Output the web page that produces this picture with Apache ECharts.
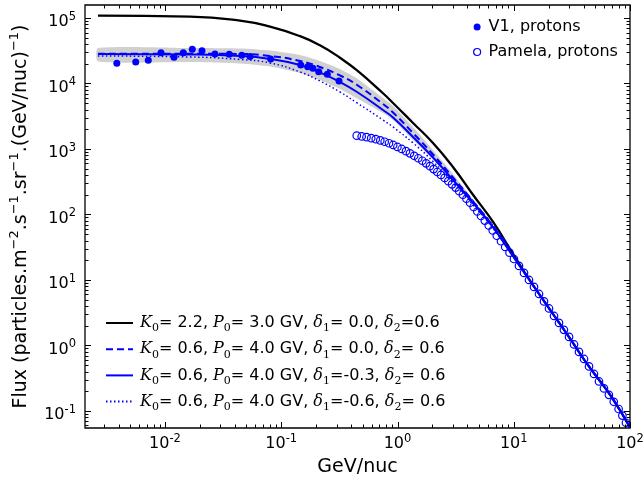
<!DOCTYPE html>
<html><head><meta charset="utf-8">
<script src="https://cdn.jsdelivr.net/npm/echarts@6/dist/echarts.min.js"></script>
<style>html,body{margin:0;padding:0;background:#fff}#c{width:644px;height:480px}</style>
</head><body><div id="c"></div><script>
// Axis ranges
const xMin = 0.00205, xMax = 100, yMin = 0.0549, yMax = 1.578e5;
const xMajorExp = [-2, -1, 0, 1, 2];
const yMajorExp = [-1, 0, 1, 2, 3, 4, 5];

// Model curves (shared energy grid, GeV/nuc)
const modelE = [0.00265, 0.0164, 0.0442, 0.080, 0.145, 0.215, 0.32, 0.449, 0.75, 0.915, 1.36, 2.02, 3.0, 4.46, 6.64, 9.86, 14, 20, 30, 40, 50, 70, 100];
const fluxK22 = [108400, 104700, 90950, 73660, 52740, 38300, 24700, 15800, 7087, 5039, 2494, 1235, 531, 200, 76.8, 25, 9.4, 3.75, 1.33, 0.62, 0.36, 0.16, 0.056];
const fluxD00 = [28500, 28500, 28200, 26290, 22050, 17860, 13250, 9487, 4864, 3608, 1755, 824, 367, 158, 65.6, 23.3, 9.3, 3.75, 1.33, 0.62, 0.36, 0.16, 0.056];
const fluxD03 = [28200, 27720, 26290, 23660, 19160, 14720, 10540, 7418, 3939, 3026, 1525, 742, 336, 150, 63.3, 23, 9.3, 3.75, 1.33, 0.62, 0.36, 0.16, 0.056];
const fluxD06 = [26290, 25380, 23250, 20560, 14990, 10920, 7418, 5039, 2773, 2168, 1236, 644, 303, 140, 61.1, 22.8, 9.3, 3.75, 1.33, 0.62, 0.36, 0.16, 0.056];

// Uncertainty band
const bandE = [0.00265, 0.0164, 0.0442, 0.080, 0.145, 0.215, 0.32, 0.449, 0.75, 0.915, 1.36, 2.02, 3.0, 4.46, 6.64, 9.86];
const bandHigh = [34830, 34830, 34220, 31900, 27230, 22050, 16650, 11920, 6005, 4534, 2167, 965, 415, 169, 66.7, 23.3];
const bandLow = [21670, 21290, 20200, 18180, 14460, 11310, 8241, 5902, 3544, 2772, 1372, 691, 319, 145, 62.2, 23];

// V1 protons
const v1E = [0.00385, 0.0056, 0.00718, 0.00924, 0.01195, 0.01436, 0.01717, 0.0208, 0.0269, 0.0357, 0.0457, 0.0539, 0.0811, 0.147, 0.169, 0.187, 0.210, 0.249, 0.314];
const v1F = [20300, 21300, 22600, 29500, 25100, 29500, 33300, 31700, 28200, 27900, 27000, 25700, 23700, 19100, 18000, 17100, 15100, 13800, 10900];

// Pamela protons
const pamE = [0.446, 0.492, 0.541, 0.594, 0.650, 0.711, 0.776, 0.845, 0.918, 0.998, 1.087, 1.183, 1.280, 1.392, 1.509, 1.634, 1.762, 1.900, 2.045, 2.199, 2.366, 2.546, 2.735, 2.944, 3.163, 3.396, 3.648, 3.917, 4.207, 4.518, 4.857, 5.225, 5.633, 6.091, 6.596, 7.147, 7.768, 8.441, 9.19, 10.04, 11.09, 12.25, 13.52, 14.93, 16.49, 18.2, 20.1, 22.2, 24.5, 27.0, 29.9, 33.0, 36.4, 40.2, 44.4, 49.0, 54.1, 59.7, 65.8, 72.5, 79.8, 86.0, 92.3];
const pamF = [1596, 1552, 1514, 1462, 1413, 1349, 1288, 1222, 1151, 1073, 1000, 925, 857, 787, 721, 661, 603, 546, 493, 445, 401, 361, 322, 288, 257, 227, 200, 174, 151, 130, 111, 94.8, 80.7, 67.9, 57.0, 47.3, 39.0, 31.9, 26.1, 20.9, 16.4, 12.8, 10.0, 7.82, 6.11, 4.70, 3.67, 2.82, 2.21, 1.73, 1.35, 1.035, 0.796, 0.622, 0.478, 0.367, 0.282, 0.221, 0.176, 0.138, 0.107, 0.085, 0.066];

const seriesNames = [
  'K0= 2.2, P0= 3.0 GV, δ1= 0.0, δ2=0.6',
  'K0= 0.6, P0= 4.0 GV, δ1= 0.0, δ2= 0.6',
  'K0= 0.6, P0= 4.0 GV, δ1=-0.3, δ2= 0.6',
  'K0= 0.6, P0= 4.0 GV, δ1=-0.6, δ2= 0.6'
];
const richNames = {};
richNames[seriesNames[0]] = '{m|K}{s|0}{t|= 2.2, }{m|P}{s|0}{t|= 3.0 GV, }{m|δ}{s|1}{t|= 0.0, }{m|δ}{s|2}{t|=0.6}';
richNames[seriesNames[1]] = '{m|K}{s|0}{t|= 0.6, }{m|P}{s|0}{t|= 4.0 GV, }{m|δ}{s|1}{t|= 0.0, }{m|δ}{s|2}{t|= 0.6}';
richNames[seriesNames[2]] = '{m|K}{s|0}{t|= 0.6, }{m|P}{s|0}{t|= 4.0 GV, }{m|δ}{s|1}{t|=-0.3, }{m|δ}{s|2}{t|= 0.6}';
richNames[seriesNames[3]] = '{m|K}{s|0}{t|= 0.6, }{m|P}{s|0}{t|= 4.0 GV, }{m|δ}{s|1}{t|=-0.6, }{m|δ}{s|2}{t|= 0.6}';

const FONT = 'DejaVu Sans';
const BLUE = '#0000ff';

// tick marks (major + minor) for log axes
const tickData = [];
for (let k = -3; k <= 2; k++) for (let m = 1; m <= 9; m++) {
  const v = m * Math.pow(10, k);
  if (v >= xMin && v <= xMax * 1.0001) tickData.push([v, yMin, 0, m === 1 ? 1 : 0]);
}
for (let k = -2; k <= 5; k++) for (let m = 1; m <= 9; m++) {
  const v = m * Math.pow(10, k);
  if (v >= yMin && v <= yMax) tickData.push([xMin, v, 1, m === 1 ? 1 : 0]);
}

const pair = (xs, ys) => xs.map((x, i) => [x, ys[i]]);

function supLabel(v) {
  const e = Math.round(Math.log10(v));
  return '{b|10}{s|' + e + '}';
}
const labelRich = {
  b: { fontFamily: FONT, fontSize: 16, color: '#000', lineHeight: 22 },
  s: { fontFamily: FONT, fontSize: 11.5, color: '#000', lineHeight: 9, verticalAlign: 'top' }
};

const chart = echarts.init(document.getElementById('c'), null, { renderer: 'canvas' });
const hiddenSym = { color: 'rgba(0,0,0,0)', borderWidth: 0, borderColor: 'rgba(0,0,0,0)' };
const option = {
  animation: false,
  backgroundColor: '#fff',
  grid: { left: 85, right: 14, top: 5, bottom: 52, show: true, borderColor: '#000', borderWidth: 1.3,
          backgroundColor: 'transparent', containLabel: false, outerBoundsMode: 'none' },
  xAxis: {
    type: 'log', logBase: 10, min: xMin, max: xMax,
    axisLine: { show: false }, axisTick: { show: false }, splitLine: { show: false }, minorTick: { show: false },
    axisLabel: { formatter: supLabel, rich: labelRich, margin: 5, showMinLabel: false, showMaxLabel: true, color: '#000' },
    name: 'GeV/nuc', nameLocation: 'middle', nameGap: 27, nameMoveOverlap: false,
    nameTextStyle: { fontFamily: FONT, fontSize: 19, color: '#000', lineHeight: 24 }
  },
  yAxis: {
    type: 'log', logBase: 10, min: yMin, max: yMax,
    axisLine: { show: false }, axisTick: { show: false }, splitLine: { show: false }, minorTick: { show: false },
    axisLabel: { formatter: supLabel, rich: labelRich, margin: 9, showMinLabel: false, showMaxLabel: false, color: '#000', padding: [8, 0, 0, 0] },
    name: 'Flux (particles.m{s|−2}.s{s|−1}.sr{s|−1}.(GeV/nuc){s|−1})',
    nameLocation: 'middle', nameGap: 51, nameMoveOverlap: false,
    nameTextStyle: { fontFamily: FONT, fontSize: 19, color: '#000', lineHeight: 26,
      rich: { s: { fontFamily: FONT, fontSize: 13, color: '#000', lineHeight: 10, verticalAlign: 'top' } } }
  },
  legend: [
    {
      data: [
        { name: 'V1, protons', icon: 'circle', itemStyle: { color: BLUE } },
        { name: 'Pamela, protons', icon: 'circle', itemStyle: { color: '#fff', borderColor: BLUE, borderWidth: 1.2 } }
      ],
      orient: 'vertical', left: 468, top: 12, itemWidth: 7, itemHeight: 7, itemGap: 5,
      textStyle: { fontFamily: FONT, fontSize: 16, color: '#000', lineHeight: 20, padding: [0, 0, 0, 3] },
      selectedMode: false
    },
    {
      data: seriesNames.map(n => ({ name: n, itemStyle: hiddenSym })),
      orient: 'vertical', left: 100, top: 310, itemWidth: 27, itemHeight: 14, itemGap: 7.2,
      itemStyle: hiddenSym,
      formatter: (n) => richNames[n],
      textStyle: { padding: [0, 0, 0, 2], color: '#000',
        rich: {
          t: { fontFamily: FONT, fontSize: 16, color: '#000', lineHeight: 22 },
          m: { fontFamily: 'DejaVu Serif', fontStyle: 'italic', fontSize: 16, color: '#000', lineHeight: 22 },
          s: { fontFamily: 'DejaVu Serif', fontSize: 11, color: '#000', lineHeight: 12, verticalAlign: 'bottom' }
        } },
      selectedMode: false
    }
  ],
  series: [
    {
      type: 'custom', name: 'band', z: 1, silent: true,
      data: bandE.map((e, i) => [e, bandLow[i], bandHigh[i]]),
      encode: { x: 0, y: 1 },
      renderItem: function (params, api) {
        if (params.dataIndex !== 0) return null;
        const pts = [];
        for (let i = 0; i < bandE.length; i++) pts.push(api.coord([bandE[i], bandHigh[i]]));
        for (let i = bandE.length - 1; i >= 0; i--) pts.push(api.coord([bandE[i], bandLow[i]]));
        return { type: 'polygon', shape: { points: pts, smooth: 0.2 }, style: { fill: '#d0d0d0', stroke: null } };
      }
    },
    { type: 'line', name: seriesNames[0], data: pair(modelE, fluxK22), z: 3, showSymbol: false, symbol: 'none', smooth: 0.5,
      lineStyle: { color: '#000', width: 2.3 }, itemStyle: { color: '#000' } },
    { type: 'line', name: seriesNames[1], data: pair(modelE, fluxD00), z: 3, showSymbol: false, symbol: 'none', smooth: 0.5,
      lineStyle: { color: BLUE, width: 2, type: [7, 4] }, itemStyle: { color: BLUE } },
    { type: 'line', name: seriesNames[2], data: pair(modelE, fluxD03), z: 3, showSymbol: false, symbol: 'none', smooth: 0.5,
      lineStyle: { color: BLUE, width: 2 }, itemStyle: { color: BLUE } },
    { type: 'line', name: seriesNames[3], data: pair(modelE, fluxD06), z: 3, showSymbol: false, symbol: 'none', smooth: 0.5,
      lineStyle: { color: BLUE, width: 1.5, type: [1.5, 2.5] }, itemStyle: { color: BLUE } },
    { type: 'scatter', name: 'V1, protons', data: pair(v1E, v1F), z: 4, symbol: 'circle', symbolSize: 7,
      itemStyle: { color: BLUE, opacity: 1 } },
    { type: 'scatter', name: 'Pamela, protons', data: pair(pamE, pamF), z: 4, symbol: 'circle', symbolSize: 7.5,
      itemStyle: { color: 'rgba(255,255,255,0)', borderColor: BLUE, borderWidth: 1.2, opacity: 1 } },
    {
      type: 'custom', name: 'ticks', z: 10, silent: true, data: tickData, encode: { x: 0, y: 1 },
      renderItem: function (params, api) {
        const cs = params.coordSys;
        const which = api.value(2), major = api.value(3);
        const len = major ? 6 : 3.5;
        const st = { stroke: '#000', lineWidth: 1 };
        if (which === 0) {
          const px = Math.round(api.coord([api.value(0), yMin])[0]) + 0.5;
          const yb = cs.y + cs.height, yt = cs.y;
          return { type: 'group', children: [
            { type: 'line', shape: { x1: px, y1: yb, x2: px, y2: yb - len }, style: st },
            { type: 'line', shape: { x1: px, y1: yt, x2: px, y2: yt + len }, style: st }
          ] };
        } else {
          const py = Math.round(api.coord([xMin, api.value(1)])[1]) + 0.5;
          const xl = cs.x, xr = cs.x + cs.width;
          return { type: 'group', children: [
            { type: 'line', shape: { x1: xl, y1: py, x2: xl + len, y2: py }, style: st },
            { type: 'line', shape: { x1: xr, y1: py, x2: xr - len, y2: py }, style: st }
          ] };
        }
      }
    }
  ]
};
chart.setOption(option);
</script></body></html>
